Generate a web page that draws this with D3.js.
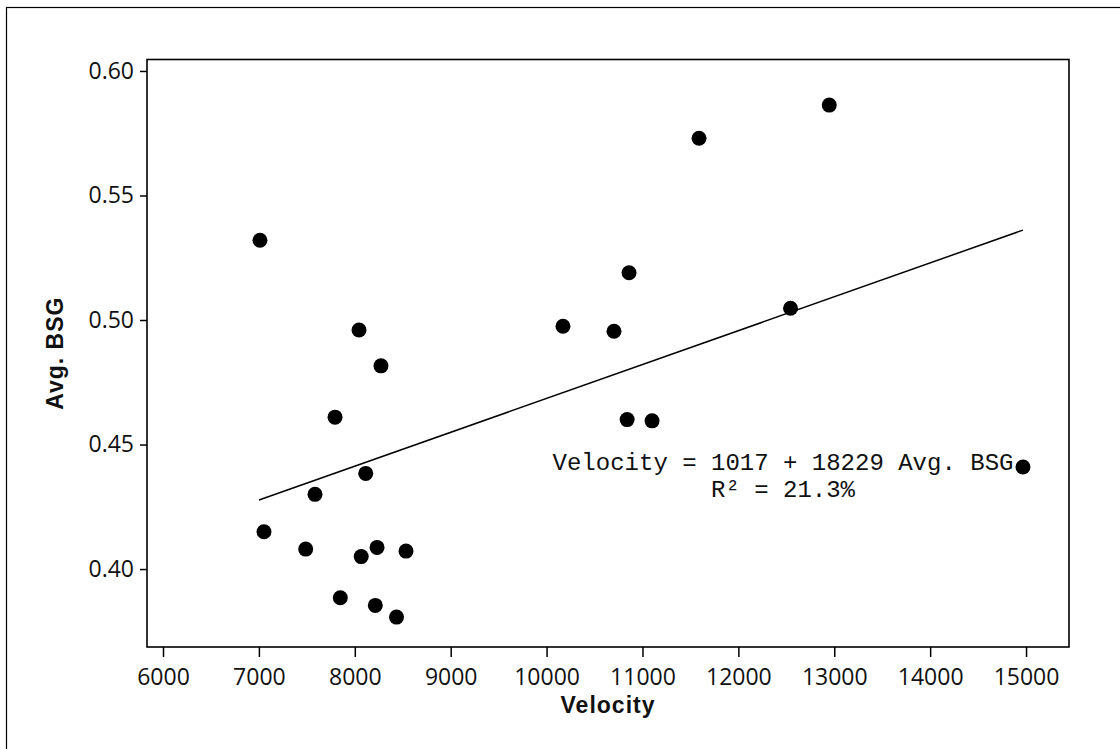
<!DOCTYPE html>
<html>
<head>
<meta charset="utf-8">
<script src="https://cdn.jsdelivr.net/npm/d3@7"></script>
<style>
  body { margin: 0; background: #fff; }
  .tick text { font-family: "Open Sans", sans-serif; font-size: 23px; fill: #111; }
</style>
</head>
<body>
<div id="chart-area"></div>
<script>
// data
const velocity = [7011, 7053, 7488, 7585, 7794, 7849, 8044, 8067, 8114, 8214, 8232, 8273, 8435, 8534,
                  10171, 10703, 10840, 10860, 11100, 11590, 12544, 12948, 14968]
const avgBSG   = [0.532, 0.415, 0.408, 0.430, 0.461, 0.3885, 0.496, 0.405, 0.4384, 0.3854, 0.4087, 0.4816, 0.3807, 0.4072,
                  0.4975, 0.4955, 0.460, 0.519, 0.4595, 0.573, 0.5047, 0.5863, 0.441]
const fitX = [7001, 14968]
const fitY = [0.4277, 0.5361]
const xTicks = [6000, 7000, 8000, 9000, 10000, 11000, 12000, 13000, 14000, 15000]
const yTicks = [0.40, 0.45, 0.50, 0.55, 0.60]
const equation = ["Velocity = 1017 + 18229 Avg. BSG", "R\u00b2 = 21.3%"]

const W = 1120, H = 749
const MARGIN = { LEFT: 147, RIGHT: 51, TOP: 59.5, BOTTOM: 102 }
const WIDTH = W - MARGIN.LEFT - MARGIN.RIGHT
const HEIGHT = H - MARGIN.TOP - MARGIN.BOTTOM

const svg = d3.select("#chart-area").append("svg")
  .attr("width", W)
  .attr("height", H)

// outer frame (only top and left visible)
svg.append("rect")
  .attr("x", 6.5).attr("y", 7.5)
  .attr("width", 1300).attr("height", 1000)
  .attr("fill", "none").attr("stroke", "#000").attr("stroke-width", 1.2)

const g = svg.append("g")
  .attr("transform", "translate(" + MARGIN.LEFT + ", " + MARGIN.TOP + ")")

const x = d3.scaleLinear()
  .domain([5833, 15448])
  .range([0, WIDTH])

const y = d3.scaleLinear()
  .domain([0.3687, 0.6046])
  .range([HEIGHT, 0])

const xAxisCall = d3.axisBottom(x)
  .tickValues(xTicks)
  .tickSize(10)
  .tickPadding(6)
  .tickFormat(d3.format("d"))
const xAxis = g.append("g")
  .attr("class", "x axis")
  .attr("transform", "translate(0, " + HEIGHT + ")")
  .call(xAxisCall)

const yAxisCall = d3.axisLeft(y)
  .tickValues(yTicks)
  .tickSize(7)
  .tickPadding(6)
  .tickFormat(d3.format(".2f"))
const yAxis = g.append("g")
  .attr("class", "y axis")
  .call(yAxisCall)

g.selectAll(".axis .domain").remove()
g.selectAll(".axis line").attr("stroke", "#000").attr("stroke-width", 1.5)
xAxis.selectAll("text").attr("dy", "0.95em")

// plot frame
g.append("rect")
  .attr("width", WIDTH)
  .attr("height", HEIGHT)
  .attr("fill", "none")
  .attr("stroke", "#000")
  .attr("stroke-width", 1.6)

// fitted line
const line = d3.line()
  .x(function(d) { return x(d[0]) })
  .y(function(d) { return y(d[1]) })
g.append("path")
  .datum(fitX.map(function(v, i) { return [v, fitY[i]] }))
  .attr("d", line)
  .attr("fill", "none")
  .attr("stroke", "#000")
  .attr("stroke-width", 1.5)

// points
g.selectAll("circle")
  .data(velocity)
  .enter().append("circle")
  .attr("cx", function(d) { return x(d) })
  .attr("cy", function(d, i) { return y(avgBSG[i]) })
  .attr("r", 7.5)
  .attr("fill", "#000")

// equation
g.append("text")
  .attr("x", 783 - MARGIN.LEFT)
  .attr("y", 470 - MARGIN.TOP)
  .attr("text-anchor", "middle")
  .attr("font-family", "Liberation Mono, monospace")
  .attr("font-size", "24px")
  .attr("fill", "#111")
  .selectAll("tspan")
  .data(equation)
  .enter().append("tspan")
  .attr("x", 783 - MARGIN.LEFT)
  .attr("dy", function(d, i) { return i === 0 ? 0 : 27 })
  .attr("xml:space", "preserve")
  .text(function(d) { return d })

// X label
svg.append("text")
  .attr("x", MARGIN.LEFT + WIDTH / 2)
  .attr("y", 713)
  .attr("text-anchor", "middle")
  .attr("font-family", "Liberation Sans, Arial, sans-serif")
  .attr("font-weight", "bold")
  .attr("font-size", "23px")
  .attr("letter-spacing", "1px")
  .attr("fill", "#111")
  .text("Velocity")

// Y label
svg.append("text")
  .attr("transform", "translate(63, " + (MARGIN.TOP + HEIGHT / 2) + ") rotate(-90)")
  .attr("text-anchor", "middle")
  .attr("font-family", "Liberation Sans, Arial, sans-serif")
  .attr("font-weight", "bold")
  .attr("font-size", "23px")
  .attr("letter-spacing", "1px")
  .attr("fill", "#111")
  .text("Avg. BSG")
</script>
</body>
</html>
